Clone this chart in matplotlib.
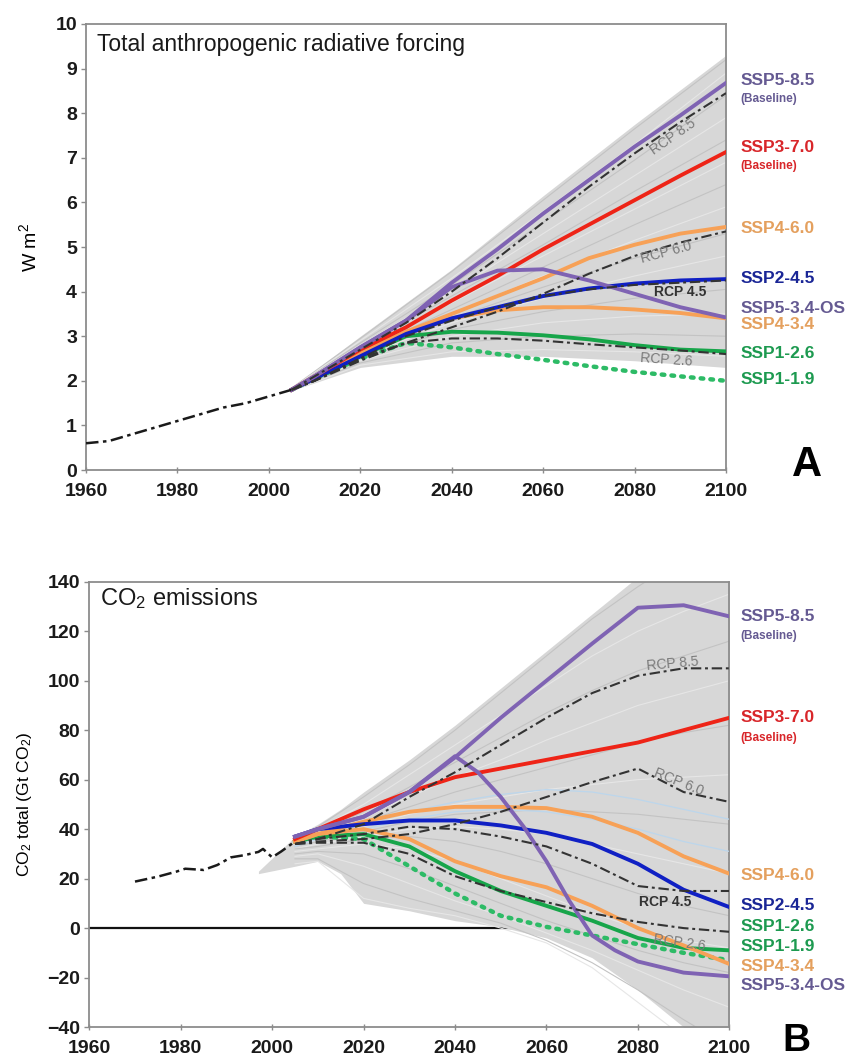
import numpy as np
import matplotlib
matplotlib.use("Agg")
import matplotlib.pyplot as plt
from matplotlib.transforms import blended_transform_factory

plt.rcParams['font.family'] = ['Liberation Sans', 'DejaVu Sans']
plt.rcParams['mathtext.default'] = 'regular'

# ---------------- panel A: total anthropogenic radiative forcing (W m-2) ----------------
a_hist_years = [1960, 1965, 1970, 1975, 1980, 1985, 1990, 1995, 2000, 2005]
a_hist = [0.6, 0.65, 0.8, 0.95, 1.1, 1.25, 1.4, 1.5, 1.65, 1.8]

a_years = [2005, 2010, 2020, 2030, 2040, 2050, 2060, 2070, 2080, 2090, 2100]
a_ssp585 = [1.8, 2.1, 2.75, 3.35, 4.2, 4.95, 5.75, 6.5, 7.25, 7.95, 8.68]
a_ssp370 = [1.8, 2.1, 2.7, 3.2, 3.8, 4.35, 4.95, 5.5, 6.05, 6.6, 7.13]
a_ssp460 = [1.8, 2.1, 2.65, 3.1, 3.5, 3.9, 4.3, 4.75, 5.05, 5.3, 5.45]
a_ssp245 = [1.8, 2.05, 2.55, 3.05, 3.4, 3.65, 3.9, 4.07, 4.18, 4.25, 4.28]
a_ssp534os = [1.8, 2.1, 2.75, 3.35, 4.1, 4.47, 4.5, 4.25, 3.95, 3.65, 3.42]
a_ssp434 = [1.8, 2.05, 2.6, 3.05, 3.4, 3.58, 3.65, 3.65, 3.6, 3.52, 3.4]
a_ssp126 = [1.8, 2.05, 2.55, 3.0, 3.1, 3.08, 3.02, 2.93, 2.8, 2.7, 2.66]
a_ssp119 = [1.8, 2.05, 2.5, 2.85, 2.75, 2.6, 2.47, 2.33, 2.2, 2.1, 2.0]

a_rcp85 = [1.8, 2.1, 2.7, 3.3, 4.0, 4.75, 5.55, 6.35, 7.1, 7.8, 8.45]
a_rcp60 = [1.8, 2.0, 2.45, 2.85, 3.2, 3.55, 3.95, 4.4, 4.8, 5.1, 5.35]
a_rcp45 = [1.8, 2.0, 2.5, 3.0, 3.35, 3.65, 3.9, 4.05, 4.15, 4.2, 4.25]
a_rcp26 = [1.8, 2.0, 2.5, 2.85, 2.95, 2.95, 2.9, 2.82, 2.75, 2.68, 2.6]

# scenario database fan (gray)
a_fan_years = [2005, 2020, 2040, 2060, 2080, 2100]
a_fan_hi = [1.85, 3.0, 4.5, 6.15, 7.75, 9.3]
a_fan_lo = [1.78, 2.3, 2.55, 2.55, 2.45, 2.3]
a_runs = [
    [1.84, 2.95, 4.45, 6.05, 7.65, 9.2],
    [1.83, 2.9, 4.3, 5.8, 7.3, 8.9],
    [1.82, 2.85, 4.15, 5.55, 6.95, 8.4],
    [1.82, 2.8, 4.0, 5.3, 6.6, 7.9],
    [1.81, 2.75, 3.9, 5.05, 6.25, 7.4],
    [1.81, 2.7, 3.75, 4.8, 5.85, 6.9],
    [1.8, 2.65, 3.6, 4.55, 5.5, 6.4],
    [1.8, 2.6, 3.5, 4.35, 5.15, 5.9],
    [1.8, 2.6, 3.4, 4.1, 4.75, 5.3],
    [1.8, 2.55, 3.3, 3.85, 4.35, 4.8],
    [1.79, 2.5, 3.15, 3.55, 3.85, 4.05],
    [1.79, 2.45, 3.0, 3.3, 3.45, 3.5],
    [1.79, 2.4, 2.85, 3.0, 3.05, 3.0],
    [1.78, 2.35, 2.65, 2.7, 2.65, 2.55],
]

# ---------------- panel B: CO2 emissions (Gt CO2) ----------------
b_hist_years = [1970, 1973, 1975, 1979, 1981, 1985, 1988, 1991, 1994, 1997, 1998, 2000, 2002, 2005]
b_hist = [18.8, 20, 20.8, 22.8, 24, 23.5, 25.5, 28.6, 29.5, 30.8, 32, 28.6, 31, 35]

b_years = [2005, 2010, 2020, 2030, 2040, 2050, 2060, 2070, 2080, 2090, 2100]
b_ssp585 = [37, 40, 45, 55, 69, 85, 100, 115, 129.5, 130.5, 126]
b_ssp370 = [36, 40, 48, 55, 61, 64.5, 68, 71.5, 75, 80, 85]
b_ssp460 = [35, 38, 43, 47, 49, 49, 48.5, 45, 38.5, 29, 22]
b_ssp245 = [37, 40, 42, 43.5, 43.5, 41.5, 38.5, 34, 26, 15.5, 8.5]
b_ssp126 = [35, 37, 38, 33, 23, 15, 9, 3, -4, -8, -9]
b_ssp119 = [35, 37, 36, 25, 14, 5, 0.5, -3, -6.5, -10, -13]
b_ssp434 = [35, 38, 40, 36, 27, 21, 16.5, 9, 0, -7, -14.5]
b_ssp534os_years = [2005, 2010, 2020, 2030, 2040, 2045, 2050, 2055, 2060, 2065, 2070, 2075, 2080, 2090, 2100]
b_ssp534os = [37, 40, 45, 55, 69.5, 63, 53, 41, 27, 11, -3, -9, -13.5, -18, -19.5]

b_rcp85 = [34, 36, 42, 53, 63, 74, 85, 95, 102, 105, 105]
b_rcp60 = [34, 35, 36, 38, 42, 47, 53, 59, 64.5, 55, 51]
b_rcp45 = [34, 36, 38, 41, 40, 37, 33, 26, 17, 15, 15]
b_rcp26 = [34, 34.5, 34.5, 30, 21, 15, 10.5, 6, 2.5, 0, -1.5]

b_fan_years = [1997, 2005, 2010, 2015, 2020, 2030, 2040, 2050, 2060, 2070, 2080, 2090, 2100]
b_fan_hi = [23, 37, 42, 48, 55, 68, 82, 97, 112, 127, 142, 155, 165]
b_fan_lo = [22, 25, 27, 22, 10, 7, 3, 0.5, -4, -12, -25, -40, -55]
b_runs = [
    [36, 41, 53, 66, 80, 95, 110, 125, 138, 150, 160],
    [35, 40, 50, 62, 74, 86, 98, 110, 120, 128, 135],
    [35, 39, 47, 57, 67, 77, 87, 96, 104, 110, 116],
    [34, 38, 45, 53, 61, 68, 76, 83, 90, 95, 100],
    [34, 37, 43, 49, 55, 60, 65, 70, 75, 79, 82],
    [33, 36, 41, 46, 50, 53, 56, 58, 60, 61, 62],
    [33, 35, 39, 43, 46, 47, 48, 47, 46, 44, 42],
    [32, 34, 37, 40, 41, 40, 38, 34, 30, 26, 22],
    [32, 33, 36, 37, 35, 31, 26, 20, 14, 9, 5],
    [31, 32, 34, 32, 27, 20, 13, 6, 0, -5, -8],
    [30, 31, 30, 24, 17, 10, 3, -3, -9, -14, -18],
    [29, 30, 25, 18, 11, 5, -2, -9, -17, -25, -32],
    [28, 28, 18, 12, 7, 2, -5, -14, -25, -37, -48],
    [26, 27, 12, 8, 5, 0, -6, -16, -30, -44, -58],
]
b_blue_runs = [
    [34, 37, 42, 47, 51, 54, 56, 55, 52, 48, 44],
    [33, 36, 40, 44, 47, 48, 47, 44, 40, 35, 31],
]

# ---------------- styles ----------------
PURPLE, RED, ORANGE, BLUE, GREEN, GREEN_D = '#7f63b3', '#ee2417', '#f7a157', '#1020c4', '#17a54a', '#2dbb66'
LBL = {'purple': '#655a92', 'red': '#d8262a', 'orange': '#e4a05e', 'blue': '#1a2696',
       'green': '#1d9a50'}
FAN, RUN, RUN_LIGHT = '#d7d7d7', '#c3c3c3', '#e6e6e6'
RCP_DASH = (0, (5, 1.8, 1.4, 1.8))

fig = plt.figure(figsize=(8.56, 10.61), dpi=100)
axA = fig.add_axes([0.1005, 0.557, 0.7477, 0.4204])
axB = fig.add_axes([0.1043, 0.032, 0.7477, 0.4197])


def style_axes(ax, ylim, yticks):
    ax.set_xlim(1960, 2100)
    ax.set_ylim(*ylim)
    ax.set_xticks(range(1960, 2101, 20))
    ax.set_yticks(yticks)
    for s in ax.spines.values():
        s.set_color('#8c8c8c')
        s.set_linewidth(1.3)
    ax.tick_params(axis='y', direction='out', length=3.5, width=1, color='#8c8c8c', pad=3)
    ax.tick_params(axis='x', direction='inout', length=5, width=1, color='#8c8c8c', pad=7)
    for lab in ax.get_xticklabels() + ax.get_yticklabels():
        lab.set_fontweight('bold')
        lab.set_fontsize(14)
        lab.set_color('#1a1a1a')


def draw_fan(ax, fy, lo, hi, ry, runs):
    ax.fill_between(fy, lo, hi, color=FAN, lw=0, zorder=2)
    for i, r in enumerate(runs):
        ax.plot(ry, r, color=RUN if i % 2 == 0 else RUN_LIGHT, lw=0.8, zorder=2.5)


# ---------- panel A ----------
style_axes(axA, (0, 10), range(0, 11))
draw_fan(axA, a_fan_years, a_fan_lo, a_fan_hi, a_fan_years, a_runs)
axA.plot(a_hist_years, a_hist, color='#1a1a1a', lw=1.8, ls=RCP_DASH, zorder=6)

for vals in [a_rcp85, a_rcp60, a_rcp45, a_rcp26]:
    axA.plot(a_years, vals, color='#333333', lw=1.5, ls=RCP_DASH, zorder=5)

a_lines = [(a_ssp119, GREEN_D, ':'), (a_ssp126, GREEN, '-'), (a_ssp434, ORANGE, '-'),
           (a_ssp460, ORANGE, '-'), (a_ssp245, BLUE, '-'), (a_ssp370, RED, '-'),
           (a_ssp585, PURPLE, '-'), (a_ssp534os, PURPLE, '-')]
for vals, c, ls in a_lines:
    if ls == ':':
        axA.plot(a_years, vals, color=c, lw=3.2, ls=(0, (0.6, 1.6)), dash_capstyle='round', zorder=4)
    else:
        axA.plot(a_years, vals, color=c, lw=2.8, zorder=4)

axA.text(0.017, 0.953, 'Total anthropogenic radiative forcing', transform=axA.transAxes,
         fontsize=16.5, color='#1a1a1a', va='center', ha='left', zorder=8)
axA.set_ylabel('W m$^2$', fontsize=14)
axA.yaxis.set_label_coords(-0.072, 0.5)

rcp_txt = dict(color='#7a7a7a', fontsize=10, ha='center', va='center', zorder=7,
               rotation_mode='anchor')
axA.text(2088.5, 7.47, 'RCP 8.5', rotation=35, **rcp_txt)
axA.text(2087, 4.87, 'RCP 6.0', rotation=15, **rcp_txt)
axA.text(2087, 2.47, 'RCP 2.6', rotation=-4, **rcp_txt)
axA.text(2090, 3.98, 'RCP 4.5', fontsize=10, color='#333333', fontweight='bold',
         ha='center', va='center', zorder=7)

trA = blended_transform_factory(axA.transAxes, axA.transData)
a_labels = [('SSP5-8.5', 8.74, 'purple', 12.5), ('(Baseline)', 8.31, 'purple', 8.5),
            ('SSP3-7.0', 7.24, 'red', 12.5), ('(Baseline)', 6.82, 'red', 8.5),
            ('SSP4-6.0', 5.42, 'orange', 12.5), ('SSP2-4.5', 4.30, 'blue', 12.5),
            ('SSP5-3.4-OS', 3.62, 'purple', 12.5), ('SSP4-3.4', 3.27, 'orange', 12.5),
            ('SSP1-2.6', 2.62, 'green', 12.5), ('SSP1-1.9', 2.02, 'green', 12.5)]
for txt, y, c, fs in a_labels:
    axA.text(1.023, y, txt, transform=trA, color=LBL[c], fontsize=fs, fontweight='bold',
             va='center', ha='left', clip_on=False)

# ---------- panel B ----------
style_axes(axB, (-40, 140), range(-40, 141, 20))
axB.axhline(0, color='#111111', lw=1.6, zorder=1)
draw_fan(axB, b_fan_years, b_fan_lo, b_fan_hi, b_years, b_runs)
for r in b_blue_runs:
    axB.plot(b_years, r, color='#bcd6ec', lw=0.9, zorder=2.6)
axB.plot(b_hist_years, b_hist, color='#1a1a1a', lw=1.8, ls=RCP_DASH, zorder=6)

for vals in [b_rcp85, b_rcp60, b_rcp45, b_rcp26]:
    axB.plot(b_years, vals, color='#333333', lw=1.5, ls=RCP_DASH, zorder=5)

b_lines = [(b_ssp119, GREEN_D, ':'), (b_ssp126, GREEN, '-'), (b_ssp434, ORANGE, '-'),
           (b_ssp460, ORANGE, '-'), (b_ssp245, BLUE, '-'), (b_ssp370, RED, '-'),
           (b_ssp585, PURPLE, '-')]
for vals, c, ls in b_lines:
    if ls == ':':
        axB.plot(b_years, vals, color=c, lw=3.2, ls=(0, (0.6, 1.6)), dash_capstyle='round', zorder=4)
    else:
        axB.plot(b_years, vals, color=c, lw=2.8, zorder=4)
axB.plot(b_ssp534os_years, b_ssp534os, color=PURPLE, lw=2.8, zorder=4)

axB.text(0.017, 0.962, 'CO$_2$ emissions', transform=axB.transAxes,
         fontsize=17, color='#1a1a1a', va='center', ha='left', zorder=8)
axB.set_ylabel('CO$_2$ total (Gt CO$_2$)', fontsize=12.5)
axB.yaxis.set_label_coords(-0.086, 0.5)

axB.text(2087.7, 107, 'RCP 8.5', rotation=5, **rcp_txt)
axB.text(2089, 59.2, 'RCP 6.0', rotation=-22, **rcp_txt)
axB.text(2089, -6, 'RCP 2.6', rotation=-8, **rcp_txt)
axB.text(2086, 10.7, 'RCP 4.5', fontsize=10, color='#333333', fontweight='bold',
         ha='center', va='center', zorder=7)

trB = blended_transform_factory(axB.transAxes, axB.transData)
b_labels = [('SSP5-8.5', 126, 'purple', 12.5), ('(Baseline)', 118, 'purple', 8.5),
            ('SSP3-7.0', 85, 'red', 12.5), ('(Baseline)', 77, 'red', 8.5),
            ('SSP4-6.0', 21.4, 'orange', 12.5), ('SSP2-4.5', 9.1, 'blue', 12.5),
            ('SSP1-2.6', 0.5, 'green', 12.5), ('SSP1-1.9', -7.5, 'green', 12.5),
            ('SSP4-3.4', -15.4, 'orange', 12.5), ('SSP5-3.4-OS', -23.3, 'purple', 12.5)]
for txt, y, c, fs in b_labels:
    axB.text(1.017, y, txt, transform=trB, color=LBL[c], fontsize=fs, fontweight='bold',
             va='center', ha='left', clip_on=False)

fig.text(0.943, 0.5617, 'A', fontsize=30, fontweight='bold', ha='center', va='center')
fig.text(0.931, 0.019, 'B', fontsize=28, fontweight='bold', ha='center', va='center')

fig.savefig('out.png', dpi=100)
